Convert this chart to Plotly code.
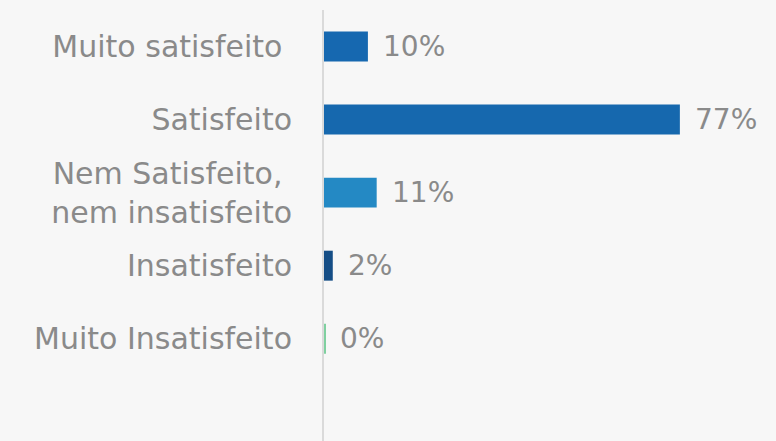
import plotly.graph_objects as go

categories = ["Muito satisfeito ", "Satisfeito", "Nem Satisfeito, <br>nem insatisfeito",
              "Insatisfeito", "Muito Insatisfeito"]
values = [9.5, 77.0, 11.4, 1.9, 0.3]
labels = ["10%", "77%", "11%", "2%", "0%"]
colors = ["#1668b0", "#1668ae", "#2489c4", "#154e86", "#7fd0a0"]

positions = list(range(len(categories)))
FONT = "DejaVu Sans"
TXT = "#8a8a8a"

fig = go.Figure()
fig.add_trace(go.Bar(
    x=values, y=positions, orientation="h",
    marker=dict(color=colors, line=dict(width=0)),
    width=0.41, hoverinfo="skip",
))

for p, v, t in zip(positions, values, labels):
    fig.add_annotation(x=v, y=p, text=t, showarrow=False, xanchor="left",
                       yanchor="middle", xshift=13,
                       font=dict(family=FONT, size=28, color=TXT))

fig.update_layout(
    width=776, height=441,
    margin=dict(l=324, r=0, t=10, b=0),
    paper_bgcolor="#f7f7f7", plot_bgcolor="#f7f7f7",
    showlegend=False,
    font=dict(family=FONT, size=30, color=TXT),
)
fig.update_xaxes(range=[0, 97.8], showgrid=False, zeroline=False,
                 showticklabels=False, showline=False)
fig.update_yaxes(range=[5.4, -0.5], tickmode="array", tickvals=positions,
                 ticktext=categories, showgrid=False, zeroline=False,
                 showline=True, linecolor="#dadada", linewidth=2,
                 ticks="", ticklabelstandoff=24,
                 tickfont=dict(family=FONT, size=30, color=TXT))

fig.write_html("out.html", config={"displayModeBar": False},
               post_script="document.body.style.margin='0';document.body.style.background='#f7f7f7';")
